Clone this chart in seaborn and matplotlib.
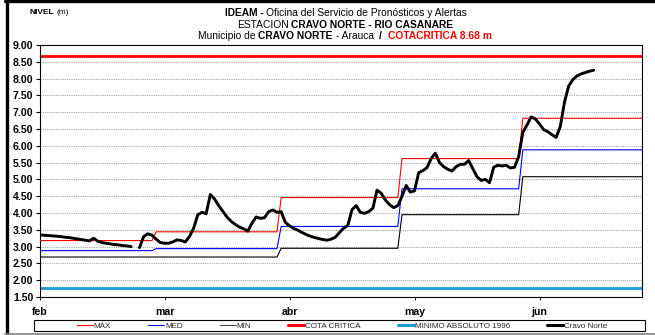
import numpy as np
import pandas as pd
import matplotlib
matplotlib.use("Agg")
import matplotlib.pyplot as plt
import seaborn as sns
from matplotlib.lines import Line2D
from matplotlib.patches import Rectangle

# ---- data -------------------------------------------------------------
# daily water level at Cravo Norte, starting 1 February (None = no reading)
levels = [
    3.35, 3.34, 3.33, 3.32, 3.31, 3.30, 3.28, 3.27, 3.25, 3.23,
    3.21, 3.19, 3.17, 3.25, 3.16, 3.12, 3.10, 3.08, 3.06, 3.05,
    3.03, 3.02, 3.00, None, 2.97, 3.30, 3.38, 3.34, 3.22, 3.12,
    3.10, 3.10, 3.14, 3.20, 3.18, 3.14, 3.30, 3.55, 3.95, 4.02,
    3.98, 4.55, 4.42, 4.22, 4.05, 3.88, 3.75, 3.66, 3.58, 3.53,
    3.46, 3.70, 3.88, 3.84, 3.86, 4.04, 4.09, 4.02, 4.04, 3.72,
    3.62, 3.54, 3.49, 3.42, 3.36, 3.31, 3.27, 3.24, 3.21, 3.19,
    3.22, 3.28, 3.42, 3.55, 3.63, 4.10, 4.22, 4.02, 3.99, 4.04,
    4.14, 4.68, 4.59, 4.39, 4.25, 4.16, 4.22, 4.50, 4.82, 4.62,
    4.66, 5.20, 5.26, 5.35, 5.62, 5.78, 5.50, 5.38, 5.30, 5.25,
    5.38, 5.45, 5.45, 5.56, 5.32, 5.08, 4.97, 5.00, 4.90, 5.36,
    5.42, 5.40, 5.42, 5.34, 5.36, 5.68, 6.40, 6.62, 6.86, 6.80,
    6.65, 6.48, 6.42, 6.33, 6.25, 6.58, 7.30, 7.78, 7.97, 8.08,
    8.14, 8.18, 8.22, 8.25,
]

# monthly historical statistics (feb .. jun) and the day each month starts
month_start = [0, 28, 58, 87, 116]
period_end = 145
level_max = [3.18, 3.44, 4.46, 5.62, 6.82]
level_med = [2.88, 2.94, 3.60, 4.72, 5.88]
level_min = [2.69, 2.69, 2.95, 3.95, 5.08]

cota_critica = 8.68
minimo_absoluto = 1.77

month_ticks = [0, 30, 60, 90, 120]
month_labels = ["feb", "mar", "abr", "may", "jun"]
y_ticks = [1.5, 2.0, 2.5, 3.0, 3.5, 4.0, 4.5, 5.0, 5.5, 6.0, 6.5, 7.0, 7.5, 8.0, 8.5, 9.0]

# ---- tables -----------------------------------------------------------
series = pd.DataFrame({"dia": np.arange(len(levels)),
                       "nivel": pd.array(levels, dtype="Float64").astype(float)})
# split the record where readings are missing so the line breaks there
series["tramo"] = series["nivel"].isna().cumsum()
series = series.dropna()


def monthly_steps(values):
    rows = []
    edges = month_start[1:] + [period_end + 1]
    for start, nxt, v in zip(month_start, edges, values):
        rows.append((start, v))
        rows.append((nxt - 1, v))
    return pd.DataFrame(rows, columns=["dia", "nivel"])


steps_max = monthly_steps(level_max)
steps_med = monthly_steps(level_med)
steps_min = monthly_steps(level_min)

# ---- figure -----------------------------------------------------------
sns.set_theme(style="white")
plt.rcParams["font.family"] = ["Liberation Sans", "DejaVu Sans"]

W, H = 655, 335
fig = plt.figure(figsize=(W / 100, H / 100), dpi=100)
fig.patch.set_facecolor("white")
ax = fig.add_axes([39.5 / W, 1 - 297 / H, (642 - 39.5) / W, (297 - 45) / H])
ax.set_facecolor("white")

red = "#ff0000"
blue = "#0000ff"
cyan = "#1a9ad6"

for y in y_ticks[1:-1]:
    ax.axhline(y, color="#a6a6a6", lw=0.8, ls=(0, (1, 1)), zorder=0)

ax.axhline(cota_critica, color=red, lw=2.0, zorder=2)
ax.axhline(minimo_absoluto, color=cyan, lw=2.0, zorder=2)

sns.lineplot(data=steps_max, x="dia", y="nivel", color=red, lw=0.8,
             estimator=None, legend=False, ax=ax, zorder=3)
sns.lineplot(data=steps_med, x="dia", y="nivel", color=blue, lw=0.8,
             estimator=None, legend=False, ax=ax, zorder=3)
sns.lineplot(data=steps_min, x="dia", y="nivel", color="black", lw=0.8,
             estimator=None, legend=False, ax=ax, zorder=3)
sns.lineplot(data=series, x="dia", y="nivel", units="tramo", estimator=None,
             color="black", lw=2.1, legend=False, ax=ax, zorder=4)

ax.set_xlim(0, 144.6)
ax.set_ylim(1.5, 9.0)
ax.set_xticks(month_ticks)
ax.set_xticklabels(month_labels, fontsize=7.6, fontweight="bold")
ax.set_yticks(y_ticks)
ax.set_yticklabels([f"{v:.2f}" for v in y_ticks], fontsize=7.6, fontweight="bold")
ax.set_xlabel("")
ax.set_ylabel("")
ax.tick_params(axis="y", direction="out", length=3, width=0.8, pad=1.5,
               colors="black", left=True)
ax.tick_params(axis="x", direction="out", length=2.5, width=0.6, pad=5,
               colors="black", bottom=True)
for s in ax.spines.values():
    s.set_color("black")
    s.set_linewidth(0.8)
    s.set_visible(True)

# ---- legend -----------------------------------------------------------
handles = [
    Line2D([], [], color=red, lw=0.8),
    Line2D([], [], color=blue, lw=0.8),
    Line2D([], [], color="#444444", lw=0.8),
    Line2D([], [], color=red, lw=2.2),
    Line2D([], [], color=cyan, lw=2.2),
    Line2D([], [], color="black", lw=2.2),
]
names = ["MAX", "MED", "MIN", "COTA CRITICA", "MINIMO ABSOLUTO 1996", "Cravo Norte"]
fig.add_artist(Rectangle((34 / W, 1 - 331 / H), (645 - 34) / W, 11 / H,
                         transform=fig.transFigure, fill=False,
                         edgecolor="black", lw=0.8))
fig.legend(handles, names, loc="center", bbox_to_anchor=(342 / W, 1 - 325.8 / H),
           ncol=6, frameon=False, fontsize=5.8, handlelength=2.0,
           handletextpad=0.1, columnspacing=4.6, borderpad=0, borderaxespad=0)

# ---- titles -----------------------------------------------------------
renderer = fig.canvas.get_renderer()


def rich_line(y_px, parts, x_px, size, align="center"):
    probe = fig.text(0, 0, "x x", fontsize=size)
    probe2 = fig.text(0, 0, "xx", fontsize=size)
    space = probe.get_window_extent(renderer).width - probe2.get_window_extent(renderer).width
    probe.remove()
    probe2.remove()
    items = []
    total = 0.0
    for i, (txt, weight, color, gap) in enumerate(parts):
        t = fig.text(0, 1 - y_px / H, txt, fontsize=size, fontweight=weight,
                     color=color, ha="left", va="center")
        w = t.get_window_extent(renderer).width
        g = gap * space if i else 0.0
        items.append((t, w, g))
        total += w + g
    x = x_px - total / 2 if align == "center" else x_px
    for t, w, g in items:
        x += g
        t.set_x(x / W)
        x += w


size = 7.4
rich_line(12.5, [("IDEAM -", "bold", "black", 0),
                 ("Oficina del Servicio de Pronósticos y Alertas", "normal", "black", 1)],
          346, size)
rich_line(24.5, [("ESTACION", "normal", "black", 0),
                 ("CRAVO NORTE - RIO CASANARE", "bold", "black", 1)],
          345, size)
rich_line(36.0, [("Municipio de", "normal", "black", 0),
                 ("CRAVO NORTE", "bold", "black", 1),
                 ("- Arauca", "normal", "black", 1),
                 ("/", "bold", "black", 2),
                 ("COTACRITICA 8.68 m", "bold", red, 2)],
          345, size)
rich_line(13.0, [("NIVEL", "bold", "black", 0), ("(m)", "normal", "black", 1)],
          30, 6.0, align="left")

# ---- chart border -----------------------------------------------------
fig.add_artist(Line2D([6.5 / W, 6.5 / W], [0, 1], transform=fig.transFigure,
                      color="black", lw=2.4))
fig.add_artist(Line2D([5 / W, 1], [1 - 1.2 / H, 1 - 1.2 / H], transform=fig.transFigure,
                      color="black", lw=2.4))
fig.add_artist(Line2D([5 / W, 1], [1 - 333.5 / H, 1 - 333.5 / H], transform=fig.transFigure,
                      color="#808080", lw=1.2))

fig.savefig("out.png", dpi=100, facecolor="white")
